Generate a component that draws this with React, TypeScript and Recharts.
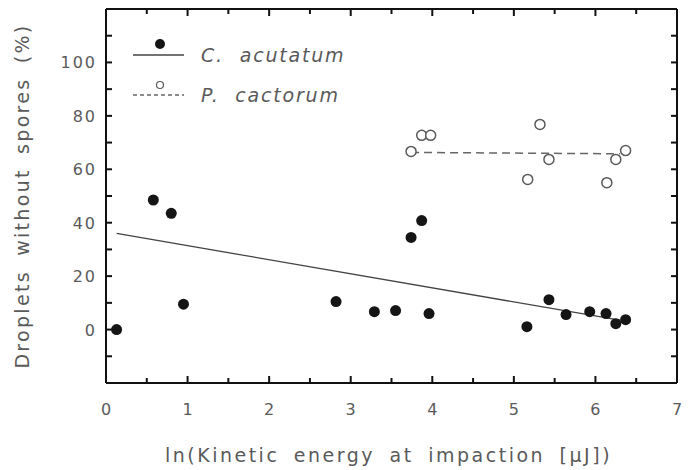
import { ComposedChart, Line, Scatter, XAxis, YAxis } from "recharts";

// ln(kinetic energy) vs. share of droplets without spores
const acutatumX = [0.13, 0.58, 0.8, 0.95, 2.82, 3.29, 3.55, 3.74, 3.87, 3.96, 5.16, 5.43, 5.64, 5.93, 6.13, 6.25, 6.37];
const acutatumY = [0, 48.5, 43.5, 9.5, 10.5, 6.7, 7.1, 34.5, 40.8, 6.0, 1.1, 11.2, 5.6, 6.7, 6.0, 2.2, 3.7];

const cactorumX = [3.74, 3.87, 3.98, 5.17, 5.32, 5.43, 6.14, 6.25, 6.37];
const cactorumY = [66.7, 72.7, 72.7, 56.2, 76.8, 63.7, 55.0, 63.7, 67.0];

// fitted lines (end points)
const acutatumFitX = [0.13, 6.3];
const acutatumFitY = [36, 3.5];
const cactorumFitX = [3.74, 6.3];
const cactorumFitY = [66.3, 65.8];

const xTicks = [0, 0.5, 1, 1.5, 2, 2.5, 3, 3.5, 4, 4.5, 5, 5.5, 6, 6.5, 7];
const yTicks = [-10, 0, 10, 20, 30, 40, 50, 60, 70, 80, 90, 100, 110];
const yLabelled = [0, 20, 40, 60, 80, 100];

const toPoints = (xs: number[], ys: number[]) => xs.map((x, i) => ({ x, y: ys[i] }));

const acutatum = toPoints(acutatumX, acutatumY);
const cactorum = toPoints(cactorumX, cactorumY);
const acutatumFit = toPoints(acutatumFitX, acutatumFitY);
const cactorumFit = toPoints(cactorumFitX, cactorumFitY);

const FONT = "'DejaVu Sans', sans-serif";
const INK = "#111";
const GREY = "#5a5a5a";

const BottomTick = (props: any) => {
  const { x, y, payload } = props;
  const major = Number.isInteger(payload.value);
  return (
    <g>
      <line x1={x} x2={x} y1={y} y2={y - (major ? 7 : 5)} stroke={INK} strokeWidth={2} />
      {major && (
        <text x={x + 1} y={y + 32} textAnchor="middle" fill={GREY} fontSize={16} fontFamily={FONT} letterSpacing={2}>
          {payload.value}
        </text>
      )}
    </g>
  );
};

const TopTick = (props: any) => {
  const { x, y, payload } = props;
  const major = Number.isInteger(payload.value);
  return <line x1={x} x2={x} y1={y} y2={y + (major ? 7 : 5)} stroke={INK} strokeWidth={2} />;
};

const LeftTick = (props: any) => {
  const { x, y, payload } = props;
  const labelled = yLabelled.includes(payload.value);
  return (
    <g>
      <line x1={x} x2={x + 6} y1={y} y2={y} stroke={INK} strokeWidth={2} />
      {labelled && (
        <text x={x - 9} y={y + 6} textAnchor="end" fill={GREY} fontSize={16} fontFamily={FONT} letterSpacing={2}>
          {payload.value}
        </text>
      )}
    </g>
  );
};

const RightTick = (props: any) => {
  const { x, y } = props;
  return <line x1={x} x2={x - 6} y1={y} y2={y} stroke={INK} strokeWidth={2} />;
};

const OpenDot = (props: any) => (
  <circle cx={props.cx} cy={props.cy} r={5} fill="#fff" stroke={GREY} strokeWidth={1.5} />
);

const FilledDot = (props: any) => (
  <circle cx={props.cx} cy={props.cy} r={5.5} fill="#151515" />
);

export default function App() {
  return (
    <div style={{ position: "absolute", left: 0, top: 0, width: 691, height: 470, background: "#fff" }}>
      <ComposedChart width={691} height={470} margin={{ top: 8, right: 13, bottom: 47, left: 46 }}>
        <XAxis
          xAxisId="b"
          dataKey="x"
          type="number"
          domain={[0, 7]}
          ticks={xTicks}
          interval={0}
          height={40}
          tickSize={0}
          tickMargin={0}
          tickLine={false}
          axisLine={{ stroke: INK, strokeWidth: 2 }}
          tick={<BottomTick />}
          label={{
            content: (p: any) => (
              <text
                x={p.viewBox.x + p.viewBox.width / 2 - 3}
                y={462}
                textAnchor="middle"
                fill={GREY}
                fontSize={19}
                fontFamily={FONT}
                letterSpacing={2.5}
                wordSpacing={6}
              >
                ln(Kinetic energy at impaction [μJ])
              </text>
            ),
          }}
        />
        {/* top and right axes frame the plot; P. cactorum is drawn against them (same domains) */}
        <XAxis
          xAxisId="t"
          dataKey="x"
          orientation="top"
          type="number"
          domain={[0, 7]}
          ticks={xTicks}
          interval={0}
          height={1}
          tickSize={0}
          tickMargin={0}
          tickLine={false}
          axisLine={{ stroke: INK, strokeWidth: 2 }}
          tick={<TopTick />}
        />
        <YAxis
          yAxisId="l"
          dataKey="y"
          type="number"
          domain={[-20, 120]}
          ticks={yTicks}
          interval={0}
          width={60}
          tickSize={0}
          tickMargin={0}
          tickLine={false}
          axisLine={{ stroke: INK, strokeWidth: 2 }}
          tick={<LeftTick />}
          label={{
            content: () => (
              <text
                x={22}
                y={196}
                transform="rotate(-90 22 196)"
                textAnchor="middle"
                dominantBaseline="central"
                fill={GREY}
                fontSize={19}
                fontFamily={FONT}
                letterSpacing={2.3}
                wordSpacing={6}
              >
                Droplets without spores (%)
              </text>
            ),
          }}
        />
        <YAxis
          yAxisId="r"
          dataKey="y"
          orientation="right"
          type="number"
          domain={[-20, 120]}
          ticks={yTicks}
          interval={0}
          width={1}
          tickSize={0}
          tickMargin={0}
          tickLine={false}
          axisLine={{ stroke: INK, strokeWidth: 2 }}
          tick={<RightTick />}
        />

        <Line
          xAxisId="b"
          yAxisId="l"
          data={acutatumFit}
          dataKey="y"
          type="linear"
          stroke="#444"
          strokeWidth={1.3}
          dot={false}
          activeDot={false}
          isAnimationActive={false}
        />
        <Line
          xAxisId="t"
          yAxisId="r"
          data={cactorumFit}
          dataKey="y"
          type="linear"
          stroke="#666"
          strokeWidth={1.5}
          strokeDasharray="8 5"
          dot={false}
          activeDot={false}
          isAnimationActive={false}
        />
        <Scatter
          xAxisId="t"
          yAxisId="r"
          name="P. cactorum"
          data={cactorum}
          dataKey="y"
          shape={<OpenDot />}
          isAnimationActive={false}
        />
        <Scatter
          xAxisId="b"
          yAxisId="l"
          name="C. acutatum"
          data={acutatum}
          dataKey="y"
          shape={<FilledDot />}
          isAnimationActive={false}
        />
      </ComposedChart>

      {/* legend */}
      <svg width={691} height={470} style={{ position: "absolute", left: 0, top: 0, pointerEvents: "none" }}>
        <line x1={133} x2={184} y1={55} y2={55} stroke="#444" strokeWidth={1.3} />
        <circle cx={160} cy={44} r={5} fill="#151515" />
        <text x={201} y={62} fill={GREY} fontSize={19} fontFamily={FONT} fontStyle="italic" letterSpacing={1.8} wordSpacing={8}>
          C. acutatum
        </text>
        <line x1={133} x2={184} y1={95} y2={95} stroke="#666" strokeWidth={1.3} strokeDasharray="4 3" />
        <circle cx={160} cy={85} r={3.5} fill="#fff" stroke={GREY} strokeWidth={1.2} />
        <text x={201} y={102} fill={GREY} fontSize={19} fontFamily={FONT} fontStyle="italic" letterSpacing={1.8} wordSpacing={8}>
          P. cactorum
        </text>
      </svg>
    </div>
  );
}
